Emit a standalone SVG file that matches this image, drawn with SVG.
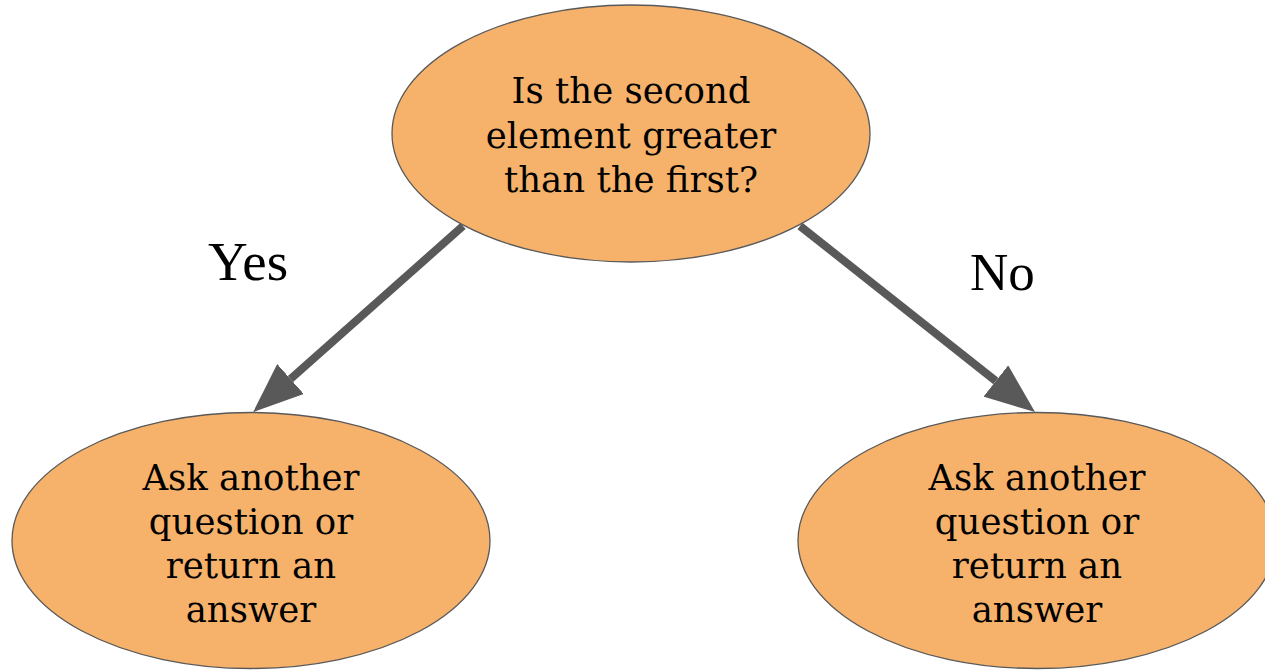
<svg xmlns="http://www.w3.org/2000/svg" width="1265" height="670" viewBox="0 0 1265 670">
  <style>
    .node { fill: #F6B26B; stroke: #595959; stroke-width: 1.3; }
    .label { font-family: "DejaVu Serif", "Liberation Serif", serif; font-size: 35.5px; fill: #000; text-anchor: middle; }
    .edge { stroke: #595959; stroke-width: 8; fill: none; }
    .elabel { font-family: "Liberation Serif", "DejaVu Serif", serif; fill: #000; }
  </style>
  <defs>
    <marker id="ah" markerUnits="userSpaceOnUse" viewBox="0 0 50 40" refX="0" refY="20" markerWidth="50" markerHeight="40" orient="auto">
      <path d="M0,0 L50,20 L0,40 Z" fill="#595959"/>
    </marker>
  </defs>
  <rect width="1265" height="670" fill="#fff"/>
  <g id="connectors">
    <line class="edge" x1="463" y1="226" x2="290.5" y2="379" marker-end="url(#ah)"/>
    <line class="edge" x1="800" y1="226" x2="995.8" y2="381" marker-end="url(#ah)"/>
    <text class="elabel" x="208" y="280" font-size="55">Yes</text>
    <text class="elabel" x="970" y="290" font-size="53">No</text>
  </g>
  <g id="node-question">
    <ellipse class="node" cx="631" cy="133.5" rx="239" ry="128.5"/>
    <text class="label" x="631" y="103">Is the second</text>
    <text class="label" x="631" y="147.5">element greater</text>
    <text class="label" x="631" y="192">than the first?</text>
  </g>
  <g id="node-yes">
    <ellipse class="node" cx="251" cy="540.5" rx="239" ry="128"/>
    <text class="label" x="251" y="490">Ask another</text>
    <text class="label" x="251" y="534">question or</text>
    <text class="label" x="251" y="578">return an</text>
    <text class="label" x="251" y="622">answer</text>
  </g>
  <g id="node-no">
    <ellipse class="node" cx="1037" cy="540.5" rx="239" ry="128"/>
    <text class="label" x="1037" y="490">Ask another</text>
    <text class="label" x="1037" y="534">question or</text>
    <text class="label" x="1037" y="578">return an</text>
    <text class="label" x="1037" y="622">answer</text>
  </g>
</svg>
